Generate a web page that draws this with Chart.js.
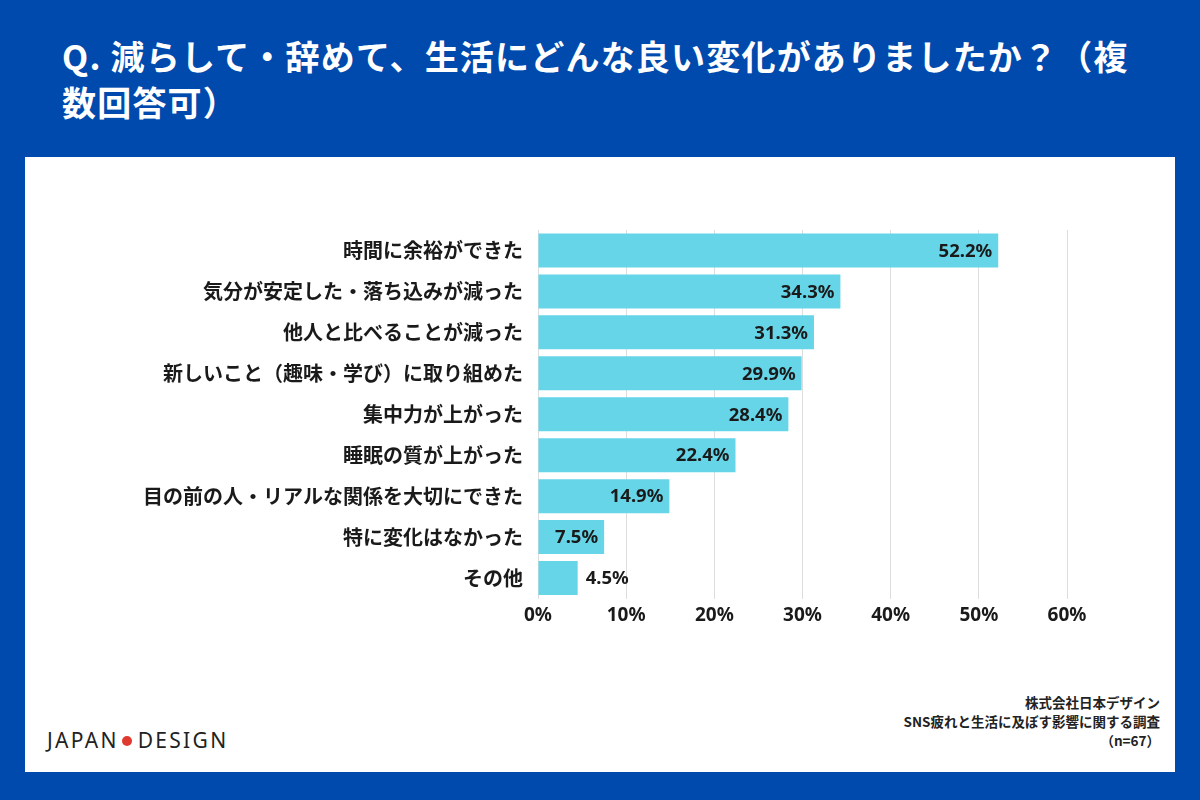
<!DOCTYPE html>
<html>
<head>
<meta charset="utf-8">
<script src="https://cdn.jsdelivr.net/npm/chart.js@4/dist/chart.umd.min.js"></script>
<style>
  body { margin: 0; width: 1200px; height: 800px; background: #004aad; position: relative; overflow: hidden; font-family: "Noto Sans CJK JP", "Noto Sans", sans-serif; }
  .title { position: absolute; left: 62px; top: 33px; color: #fff; font-size: 34px; font-weight: 700; line-height: 46px; letter-spacing: 1.2px; white-space: nowrap; }
  .panel { position: absolute; left: 25px; top: 157px; width: 1150px; height: 615px; background: #fff; }
  .wrap { position: absolute; left: 110px; top: 211px; width: 1000px; height: 424px; }
  .logo { position: absolute; left: 47px; top: 726px; font-family: "Noto Sans", sans-serif; font-size: 21px; letter-spacing: 2.3px; color: #222; }
  .logo .dot { display: inline-block; width: 10px; height: 10px; border-radius: 50%; background: #e03a2f; margin: 0 6px 3px 3px; vertical-align: middle; }
  .src { position: absolute; right: 40px; top: 693px; text-align: right; font-size: 13.5px; font-weight: 700; line-height: 19px; color: #222; }
</style>
</head>
<body>
<div class="title">Q. 減らして・辞めて、生活にどんな良い変化がありましたか？（複<br>数回答可）</div>
<div class="panel"></div>
<div class="wrap"><canvas id="myChart"></canvas></div>
<div class="logo">JAPAN<span class="dot"></span>DESIGN</div>
<div class="src">株式会社日本デザイン<br>SNS疲れと生活に及ぼす影響に関する調査<br>（n=67）</div>
<script>
const labels = [
  "時間に余裕ができた",
  "気分が安定した・落ち込みが減った",
  "他人と比べることが減った",
  "新しいこと（趣味・学び）に取り組めた",
  "集中力が上がった",
  "睡眠の質が上がった",
  "目の前の人・リアルな関係を大切にできた",
  "特に変化はなかった",
  "その他",
];
const values = [52.2, 34.3, 31.3, 29.9, 28.4, 22.4, 14.9, 7.5, 4.5];

// value labels drawn at the bar end (inside, or outside for short bars)
const barLabels = {
  id: "barLabels",
  afterDatasetsDraw(chart) {
    const c = chart.ctx;
    const meta = chart.getDatasetMeta(0);
    c.save();
    c.font = "700 18.5px 'Noto Sans', sans-serif";
    c.fillStyle = "#1a1a1a";
    c.textBaseline = "middle";
    meta.data.forEach((bar, i) => {
      const txt = values[i].toFixed(1) + "%";
      if (values[i] < 5) {
        c.textAlign = "left";
        c.fillText(txt, bar.x + 8, bar.y + 1);
      } else {
        c.textAlign = "right";
        c.fillText(txt, bar.x - 6, bar.y + 1);
      }
    });
    c.restore();
  },
};

const ctx = document.getElementById("myChart");
new Chart(ctx, {
  type: "bar",
  data: {
    labels: labels,
    datasets: [
      {
        data: values,
        backgroundColor: "#66d5e8",
        barPercentage: 0.83,
        categoryPercentage: 1,
      },
    ],
  },
  options: {
    indexAxis: "y",
    responsive: true,
    maintainAspectRatio: false,
    animation: false,
    layout: { padding: { top: 4, right: 43, left: 0, bottom: 0 } },
    plugins: { legend: { display: false }, tooltip: { enabled: false } },
    scales: {
      x: {
        min: 0,
        max: 60,
        ticks: {
          stepSize: 10,
          padding: 6,
          color: "#1a1a1a",
          font: { family: "'Noto Sans', sans-serif", size: 19, weight: "700" },
          callback: (v) => v + "%",
        },
        grid: { color: "#dddddd", drawTicks: false },
        border: { display: false },
        afterFit(scale) { scale.height = 36.5; },
      },
      y: {
        ticks: {
          padding: 7,
          color: "#1a1a1a",
          font: { family: "'Noto Sans CJK JP', sans-serif", size: 20, weight: "700" },
        },
        grid: { display: false },
        border: { display: false },
        afterFit(scale) { scale.width = 428; },
      },
    },
  },
  plugins: [barLabels],
});
</script>
</body>
</html>
